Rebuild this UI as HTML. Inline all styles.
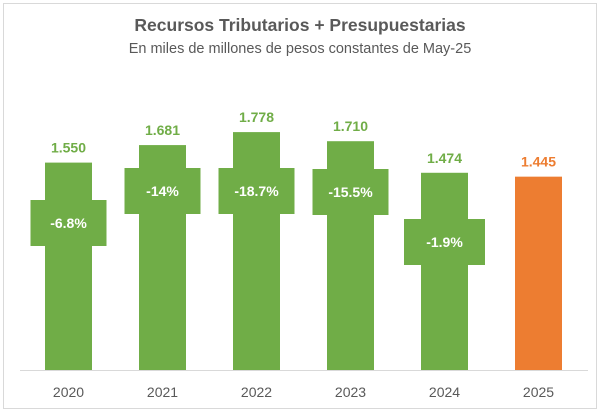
<!DOCTYPE html>
<html><head><meta charset="utf-8"><style>
html,body{margin:0;padding:0;background:#fff;}
svg{display:block;font-family:"Liberation Sans",sans-serif;}
</style></head><body>
<svg id="chart" width="600" height="415">
<rect x="3.5" y="3.5" width="593" height="405" fill="#fff" stroke="#d9d9d9"/>
<text x="300" y="31" text-anchor="middle" font-size="17.5" font-weight="bold" fill="#595959">Recursos Tributarios + Presupuestarias</text>
<text x="300" y="53" text-anchor="middle" font-size="14.5" fill="#595959">En miles de millones de pesos constantes de May-25</text>
<line x1="20" y1="370.5" x2="588" y2="370.5" stroke="#d9d9d9"/>
<g id="marks"></g>
</svg>
<script>
const categories = ["2020","2021","2022","2023","2024","2025"];
const values = [1550, 1681, 1778, 1710, 1474, 1445];
const valueLabels = ["1.550","1.681","1.778","1.710","1.474","1.445"];
const changeLabels = ["-6.8%","-14%","-18.7%","-15.5%","-1.9%",""];
const changeBoxY = [223, 191, 191, 192, 242, 0];

const ns = "http://www.w3.org/2000/svg";
const g = document.getElementById("marks");
const baseY = 370, scale = 0.1338;
function yPos(v){ return baseY - v*scale; }
function xCenter(i){ return 68.5 + i*94; }
function mk(tag, attrs){ const e=document.createElementNS(ns,tag); for(const k in attrs) e.setAttribute(k,attrs[k]); g.appendChild(e); return e; }

categories.forEach((c,i)=>{
  const cx = xCenter(i), top = yPos(values[i]);
  const color = i===categories.length-1 ? "#ED7D31" : "#70AD47";
  const bar = mk("rect",{x:cx-23.5,y:top,width:47,height:baseY-top,fill:color});
  
  
  const vl = mk("text",{x:cx,y:top-10,"text-anchor":"middle","font-size":14,"font-weight":"bold",fill:color});
  vl.textContent = valueLabels[i];
  
  
  if(changeLabels[i]){
    const by = changeBoxY[i];
    const bw = i===4 ? 81 : 76;
    const box = mk("rect",{x:cx-bw/2,y:by-23,width:bw,height:46,fill:"#70AD47"});
    
    
    const cl = mk("text",{x:cx,y:by+5,"text-anchor":"middle","font-size":14,"font-weight":"bold",fill:"#ffffff"});
    cl.textContent = changeLabels[i];
    
    
  }
  const xl = mk("text",{x:cx,y:397,"text-anchor":"middle","font-size":14,fill:"#595959"});
  xl.textContent = c;
  
  
});
</script>
</body></html>
